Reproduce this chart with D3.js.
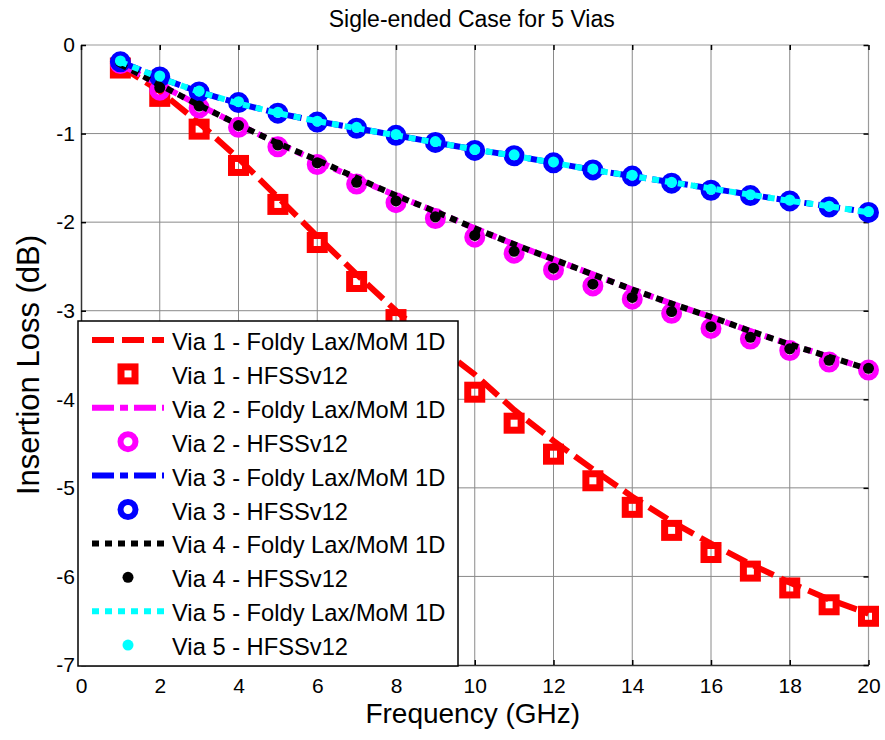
<!DOCTYPE html>
<html>
<head>
<meta charset="utf-8">
<script src="https://cdn.jsdelivr.net/npm/d3@7"></script>
<style>
  body { margin: 0; background: #fff; }
  svg { font-family: "Liberation Sans", Arial, sans-serif; }
</style>
</head>
<body>
<svg id="chart" width="885" height="740"></svg>
<script>
// frequency points (GHz)
var freq = [1, 2, 3, 4, 5, 6, 7, 8, 9, 10, 11, 12, 13, 14, 15, 16, 17, 18, 19, 20]

// Foldy Lax / MoM 1D curves (dB)
var via1Fl = [-0.24, -0.52, -0.88, -1.28, -1.72, -2.16, -2.59, -3.00, -3.38, -3.72, -4.12, -4.47, -4.79, -5.10, -5.38, -5.63, -5.86, -6.07, -6.26, -6.42]
var via2Fl = [-0.22, -0.45, -0.68, -0.90, -1.11, -1.31, -1.51, -1.70, -1.88, -2.07, -2.25, -2.42, -2.59, -2.76, -2.92, -3.07, -3.23, -3.38, -3.52, -3.66]
var via3Fl = [-0.19, -0.37, -0.53, -0.66, -0.77, -0.86, -0.94, -1.02, -1.10, -1.18, -1.25, -1.33, -1.41, -1.48, -1.55, -1.62, -1.69, -1.76, -1.82, -1.89]
var via4Fl = [-0.22, -0.45, -0.68, -0.90, -1.11, -1.30, -1.50, -1.70, -1.88, -2.07, -2.25, -2.42, -2.59, -2.76, -2.92, -3.07, -3.23, -3.38, -3.52, -3.66]
var via5Fl = [-0.19, -0.37, -0.53, -0.66, -0.77, -0.86, -0.94, -1.02, -1.10, -1.18, -1.25, -1.33, -1.41, -1.48, -1.55, -1.62, -1.69, -1.76, -1.82, -1.89]

// HFSSv12 points (dB)
var via1Hf = [-0.26, -0.58, -0.95, -1.36, -1.80, -2.23, -2.67, -3.10, -3.50, -3.92, -4.27, -4.62, -4.92, -5.22, -5.48, -5.73, -5.94, -6.13, -6.32, -6.45]
var via2Hf = [-0.21, -0.51, -0.71, -0.93, -1.15, -1.35, -1.57, -1.78, -1.96, -2.17, -2.35, -2.54, -2.72, -2.87, -3.03, -3.20, -3.32, -3.45, -3.58, -3.67]
var via3Hf = [-0.19, -0.36, -0.53, -0.65, -0.77, -0.87, -0.94, -1.02, -1.10, -1.19, -1.25, -1.33, -1.41, -1.48, -1.56, -1.64, -1.70, -1.76, -1.83, -1.89]
var via4Hf = [-0.19, -0.48, -0.69, -0.91, -1.13, -1.33, -1.55, -1.76, -1.94, -2.15, -2.33, -2.52, -2.70, -2.85, -3.01, -3.18, -3.30, -3.43, -3.56, -3.65]
var via5Hf = [-0.18, -0.35, -0.52, -0.64, -0.76, -0.86, -0.93, -1.01, -1.09, -1.18, -1.24, -1.32, -1.40, -1.47, -1.55, -1.63, -1.69, -1.75, -1.82, -1.88]

var xTicks = [0, 2, 4, 6, 8, 10, 12, 14, 16, 18, 20]
var yTicks = [0, -1, -2, -3, -4, -5, -6, -7]

var legendLabels = [
  'Via 1 - Foldy Lax/MoM 1D', 'Via 1 - HFSSv12',
  'Via 2 - Foldy Lax/MoM 1D', 'Via 2 - HFSSv12',
  'Via 3 - Foldy Lax/MoM 1D', 'Via 3 - HFSSv12',
  'Via 4 - Foldy Lax/MoM 1D', 'Via 4 - HFSSv12',
  'Via 5 - Foldy Lax/MoM 1D', 'Via 5 - HFSSv12'
]

var series = [
  { line: via1Fl, pts: via1Hf, color: '#ff0000', dash: '22,8', marker: 'square' },
  { line: via2Fl, pts: via2Hf, color: '#ff00ff', dash: '22,6,8,6', marker: 'circle' },
  { line: via3Fl, pts: via3Hf, color: '#0000ff', dash: '22,6,8,6', marker: 'circle' },
  { line: via4Fl, pts: via4Hf, color: '#000000', dash: '7,6', marker: 'dot' },
  { line: via5Fl, pts: via5Hf, color: '#00ffff', dash: '7,6', marker: 'dot' }
]

var svg = d3.select('#chart')
var plotL = 81, plotR = 868.5, plotT = 45, plotB = 665

var x = d3.scaleLinear().domain([0, 20]).range([plotL, plotR])
var y = d3.scaleLinear().domain([-7, 0]).range([plotB, plotT])

// grid
svg.append('g').selectAll('line').data(xTicks.slice(1, -1))
  .enter().append('line')
    .attr('x1', function (d) { return x(d) }).attr('x2', function (d) { return x(d) })
    .attr('y1', plotT).attr('y2', plotB)
    .attr('stroke', '#8a8a8a').attr('stroke-width', 1)
svg.append('g').selectAll('line').data(yTicks.slice(1, -1))
  .enter().append('line')
    .attr('y1', function (d) { return y(d) }).attr('y2', function (d) { return y(d) })
    .attr('x1', plotL).attr('x2', plotR)
    .attr('stroke', '#8a8a8a').attr('stroke-width', 1)

// box: top and right light, left and bottom dark
svg.append('line').attr('x1', plotL).attr('x2', plotR).attr('y1', plotT).attr('y2', plotT)
  .attr('stroke', '#9a9a9a').attr('stroke-width', 1.2)
svg.append('line').attr('x1', plotR).attr('x2', plotR).attr('y1', plotT).attr('y2', plotB)
  .attr('stroke', '#9a9a9a').attr('stroke-width', 1.2)

// axes with inward ticks on all sides
var xAxisB = d3.axisBottom(x).tickValues(xTicks).tickSizeInner(-5).tickSizeOuter(0).tickPadding(13)
  .tickFormat(d3.format('d'))
var yAxisL = d3.axisLeft(y).tickValues(yTicks).tickSizeInner(-5).tickSizeOuter(0).tickPadding(6)
  .tickFormat(function (d) { return d === 0 ? '0' : String(d) })

var gx = svg.append('g').attr('transform', 'translate(0,' + plotB + ')').call(xAxisB)
var gy = svg.append('g').attr('transform', 'translate(' + plotL + ',0)').call(yAxisL)
;[gx, gy].forEach(function (g) {
  g.select('.domain').attr('stroke', '#333').attr('stroke-width', 1.5)
  g.selectAll('.tick line').attr('stroke', '#000').attr('stroke-width', 1.5)
  g.selectAll('.tick text').attr('fill', '#000').style('font-size', '21px')
    .style('font-family', '"Liberation Sans", Arial, sans-serif')
})

var gxt = svg.append('g').attr('transform', 'translate(0,' + plotT + ')')
  .call(d3.axisTop(x).tickValues(xTicks).tickSizeInner(-5).tickSizeOuter(0).tickFormat(''))
var gyr = svg.append('g').attr('transform', 'translate(' + plotR + ',0)')
  .call(d3.axisRight(y).tickValues(yTicks).tickSizeInner(-5).tickSizeOuter(0).tickFormat(''))
;[gxt, gyr].forEach(function (g) {
  g.select('.domain').remove()
  g.selectAll('.tick line').attr('stroke', '#000').attr('stroke-width', 1.5)
})

// series
var line = d3.line()
  .x(function (d, i) { return x(freq[i]) })
  .y(function (d) { return y(d) })

function drawMarkers (g, s, cx, cy) {
  if (s.marker === 'square') {
    g.append('rect')
      .attr('x', cx - 7).attr('y', cy - 7).attr('width', 14).attr('height', 14)
      .attr('fill', 'none').attr('stroke', s.color).attr('stroke-width', 7)
  } else if (s.marker === 'circle') {
    g.append('circle').attr('cx', cx).attr('cy', cy).attr('r', 7.5)
      .attr('fill', 'none').attr('stroke', s.color).attr('stroke-width', 6)
  } else {
    g.append('circle').attr('cx', cx).attr('cy', cy).attr('r', 5.5)
      .attr('fill', s.color)
  }
}

series.forEach(function (s) {
  svg.append('path')
    .datum(s.line)
    .attr('d', line)
    .attr('fill', 'none')
    .attr('stroke', s.color)
    .attr('stroke-width', 6)
    .attr('stroke-dasharray', s.dash)

  var g = svg.append('g')
  s.pts.forEach(function (v, i) {
    drawMarkers(g, s, x(freq[i]), y(v))
  })
})

// title and axis labels
svg.append('text')
  .attr('x', (plotL + plotR) / 2 - 3).attr('y', 27)
  .attr('text-anchor', 'middle')
  .style('font-size', '23px')
  .text('Sigle-ended Case for 5 Vias')

svg.append('text')
  .attr('x', (plotL + plotR) / 2 - 2).attr('y', 723)
  .attr('text-anchor', 'middle')
  .style('font-size', '28px')
  .text('Frequency (GHz)')

svg.append('text')
  .attr('transform', 'translate(39,' + 365 + ') rotate(-90)')
  .attr('text-anchor', 'middle')
  .style('font-size', '31px')
  .text('Insertion Loss (dB)')

// legend
var legend = svg.append('g')
legend.append('rect')
  .attr('x', 78).attr('y', 321).attr('width', 380).attr('height', 345)
  .attr('fill', '#fff').attr('stroke', '#000').attr('stroke-width', 1.5)

legendLabels.forEach(function (label, i) {
  var s = series[Math.floor(i / 2)]
  var ly = 342 + i * 33.9
  if (i % 2 === 0) {
    legend.append('line')
      .attr('x1', 92).attr('x2', 164).attr('y1', ly - 2).attr('y2', ly - 2)
      .attr('stroke', s.color).attr('stroke-width', 6)
      .attr('stroke-dasharray', s.dash)
  } else {
    drawMarkers(legend, s, 128, ly - 2)
  }
  legend.append('text')
    .attr('x', 172).attr('y', ly + 8)
    .style('font-size', '23.7px')
    .text(label)
})
</script>
</body>
</html>
